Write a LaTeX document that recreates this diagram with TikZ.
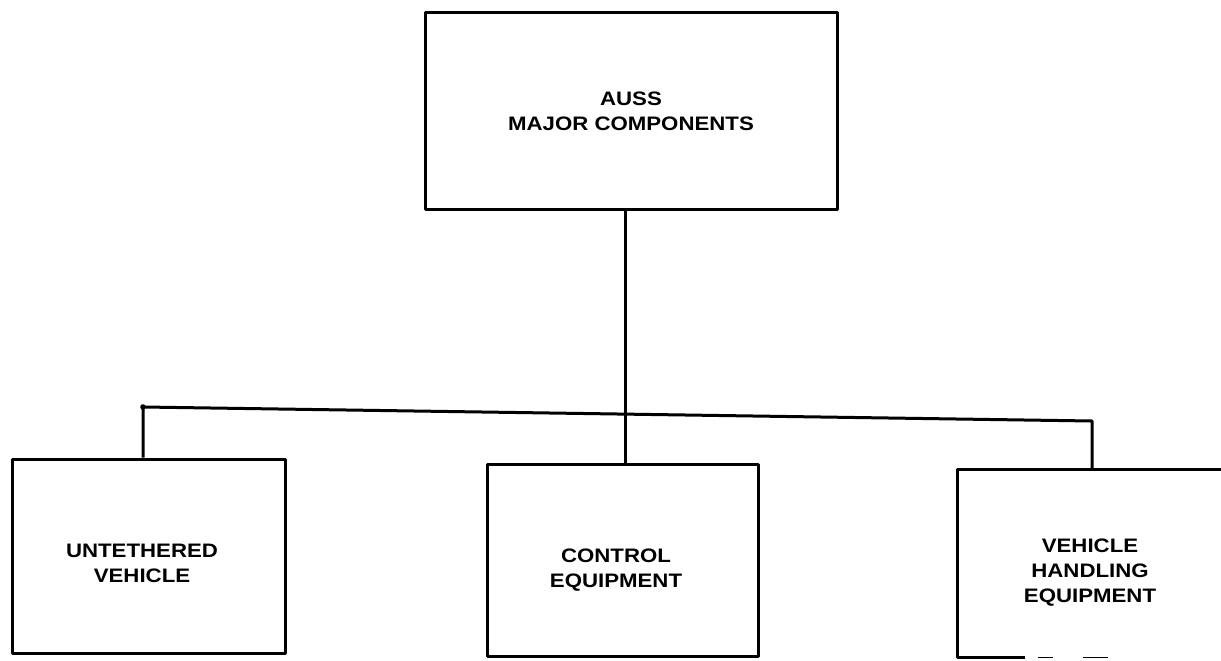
\documentclass[tikz,border=0pt]{standalone}
\usepackage{fontspec}
\setmainfont{Liberation Sans}[FakeStretch=1.14]
\begin{document}
\begin{tikzpicture}[x=1pt,y=-1pt,
  boxstyle/.style={draw=black, line width=3pt, rectangle, inner sep=0pt, line join=round},
  openbox/.style={rectangle, inner sep=0pt},
  wire/.style={draw=black, line width=3pt, line join=round},
  lbl/.style={font=\fontsize{19.5}{25}\selectfont\bfseries, align=center, anchor=base, inner sep=0pt, text=black}]
\useasboundingbox (0,0) rectangle (1221,661);
\clip (0,0) rectangle (1221,661);
% boxes
\node[boxstyle, minimum width=412pt, minimum height=196pt] (top) at (631,111) {};
\node[boxstyle, minimum width=273pt, minimum height=194pt] (uv) at (148.5,556) {};
\node[boxstyle, minimum width=271pt, minimum height=192pt] (ce) at (622.5,560) {};
\node[openbox, minimum width=272pt, minimum height=187pt] (vhe) at (1094,563.5) {};
\draw[wire] (vhe.north east) -- (vhe.north west) -- (vhe.south west) -- ([xshift=67pt]vhe.south west);
\draw[wire, line width=1.2pt] ([xshift=80pt]vhe.south west) -- ([xshift=95pt]vhe.south west);
\draw[wire, line width=1.2pt] ([xshift=125pt]vhe.south west) -- ([xshift=150pt]vhe.south west);
% labels
\node[lbl] (t0) at (631,130) {AUSS\\MAJOR COMPONENTS};
\node[lbl] (t1) at (142,582) {UNTETHERED\\VEHICLE};
\node[lbl] (t2) at (616,587) {CONTROL\\EQUIPMENT};
\node[lbl] (t3) at (1090,602) {VEHICLE\\HANDLING\\EQUIPMENT};
% connectors
\coordinate (busL) at (143,407);
\coordinate (busR) at (1092,421);
\draw[wire] ([xshift=3pt]ce.north |- top.south) -- ([xshift=3pt]ce.north);
\draw[wire] (busL |- uv.north) -- (busL) -- (busR) -- (busR |- vhe.north);
\fill (busL) circle (2.8pt);
\end{tikzpicture}
\end{document}
